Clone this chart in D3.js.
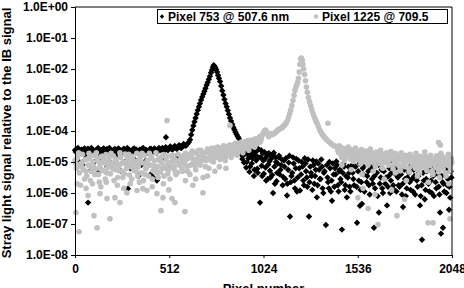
<!DOCTYPE html>
<html>
<head>
<meta charset="utf-8">
<script src="https://cdn.jsdelivr.net/npm/d3@7"></script>
<style>
  body { margin: 0; background: #fff; }
  svg { display: block; font-family: "Liberation Sans", Arial, sans-serif; }
</style>
</head>
<body>
<script>
// values are [pixel, log10(signal)]
const xTicks = [0, 512, 1024, 1536, 2048];
const yExponents = [0, -1, -2, -3, -4, -5, -6, -7, -8];
const legendLabels = ["Pixel 753 @ 507.6 nm", "Pixel 1225 @ 709.5"];

const blackFlat = [
  [0,-4.62],[10,-4.58],[22,-4.66],[35,-4.60],[46,-4.70],[58,-4.63],[70,-4.57],[83,-4.68],[95,-4.61],[108,-4.65],
  [120,-4.59],[131,-4.72],[144,-4.62],[156,-4.56],[168,-4.66],[180,-4.63],[193,-4.60],[205,-4.69],[217,-4.58],[230,-4.64],
  [242,-4.62],[255,-4.70],[266,-4.57],[278,-4.65],[290,-4.61],[303,-4.67],[315,-4.59],[327,-4.63],[340,-4.66],[352,-4.60],
  [364,-4.58],[377,-4.68],[389,-4.62],[401,-4.64],[413,-4.57],[426,-4.66],[438,-4.61],[450,-4.63],[462,-4.59],[475,-4.55],
  [487,-4.60],[499,-4.57],[512,-4.54],[524,-4.58],[536,-4.52],[548,-4.55],[560,-4.50],[572,-4.53],[584,-4.48],[596,-4.45],
  [15,-4.95],[40,-5.10],[62,-4.85],[71,-6.31],[88,-5.25],[105,-5.00],[125,-5.35],[150,-4.90],[175,-5.15],[200,-5.05],
  [225,-4.85],[250,-5.30],[270,-5.00],[288,-5.86],[300,-5.20],[320,-4.90],[345,-5.45],[360,-5.10],[385,-4.95],[410,-5.40],
  [425,-5.50],[445,-5.60],[470,-4.90],[494,-4.20],[500,-5.15],[530,-4.85],[560,-4.80],[585,-4.95]
];

const blackFlat2 = [
  [5,-4.68],[16,-4.55],[28,-4.70],[41,-4.62],[52,-4.56],[64,-4.72],[77,-4.60],[89,-4.55],[101,-4.70],[114,-4.62],
  [126,-4.55],[138,-4.66],[150,-4.60],[162,-4.70],[174,-4.58],[187,-4.55],[199,-4.64],[211,-4.60],[224,-4.72],[236,-4.56],
  [248,-4.65],[260,-4.60],[272,-4.70],[284,-4.55],[297,-4.62],[309,-4.72],[321,-4.56],[333,-4.60],[346,-4.70],[358,-4.64],
  [370,-4.55],[383,-4.60],[395,-4.70],[407,-4.58],[419,-4.64],[432,-4.56],[444,-4.70],[456,-4.55],[468,-4.62],[481,-4.66],
  [493,-4.52],[505,-4.62],[518,-4.50],[530,-4.60],[542,-4.48],[554,-4.58],[566,-4.46],[578,-4.55],[590,-4.42],[602,-4.48]
];

const blackPeak = [
  [610,-4.42],[618,-4.36],[625,-4.28],[631,-4.12],[637,-3.97],[643,-3.83],[649,-3.70],[655,-3.58],[661,-3.45],[667,-3.33],
  [673,-3.22],[679,-3.11],[685,-3.00],[691,-2.90],[697,-2.81],[703,-2.72],[709,-2.62],[715,-2.52],[721,-2.43],[727,-2.33],
  [733,-2.23],[739,-2.12],[744,-2.03],[749,-1.94],[753,-1.88],[757,-1.90],[762,-1.95],[767,-2.02],[772,-2.10],[777,-2.20],
  [782,-2.30],[788,-2.40],[794,-2.55],[800,-2.70],[806,-2.84],[812,-2.98],[818,-3.11],[824,-3.22],[830,-3.34],[836,-3.46],
  [842,-3.58],[848,-3.68],[854,-3.78],[860,-3.88],[866,-3.96],[872,-4.04],[878,-4.11],[884,-4.18],[890,-4.24]
];

const blackTail = [
  [900,-4.52],[906,-4.78],[912,-4.60],[918,-5.02],[924,-4.56],[930,-5.18],[936,-4.70],[942,-4.88],[948,-5.32],[954,-4.63],
  [960,-5.05],[966,-4.80],[972,-5.45],[978,-4.67],[984,-4.95],[990,-5.22],[996,-4.58],[1005,-6.31],[1008,-4.85],[1014,-5.12],
  [1020,-4.72],[1026,-5.38],[1032,-4.90],[1038,-5.60],[1044,-4.75],[1050,-5.08],[1056,-4.98],[1062,-5.50],[1068,-4.82],[1076,-6.00],
  [1080,-4.70],[1086,-5.70],[1092,-5.00],[1098,-5.35],
  [1105,-4.85],[1112,-5.40],[1120,-5.10],[1128,-5.75],[1135,-4.95],[1142,-5.55],[1152,-6.08],[1158,-5.25],[1165,-4.80],[1168,-6.76],
  [1172,-5.65],[1180,-5.35],[1188,-5.05],[1195,-5.85],[1202,-4.90],[1210,-5.50],[1218,-5.20],[1222,-5.92],[1232,-5.00],[1240,-5.60],
  [1248,-4.88],[1255,-5.30],[1262,-5.80],[1271,-6.76],[1278,-5.15],[1285,-5.45],[1292,-4.95],[1300,-5.70],[1308,-5.25],[1314,-6.14],
  [1322,-5.05],[1330,-5.55],[1338,-4.92],[1345,-5.85],[1352,-5.35],[1363,-7.03],[1368,-5.10],[1375,-5.65],[1382,-5.00],[1390,-5.95],
  [1396,-6.25],[1405,-5.40],[1412,-5.20],[1420,-4.98],[1428,-5.75],[1435,-5.30],[1442,-5.55],[1450,-7.18],[1458,-5.05],[1465,-5.90],
  [1472,-5.45],[1477,-6.14],[1485,-5.15],[1492,-5.80],[1498,-5.25],
  [1505,-5.10],[1512,-5.55],[1520,-4.90],[1532,-6.96],[1530,-5.80],[1538,-5.30],[1546,-5.05],[1548,-6.41],[1555,-5.65],[1563,-5.20],
  [1572,-5.95],[1580,-4.95],[1588,-5.45],[1597,-5.75],[1605,-5.15],[1614,-5.55],[1624,-7.12],[1622,-5.00],[1630,-5.85],[1640,-5.35],
  [1648,-5.10],[1651,-6.63],[1656,-5.70],[1665,-5.25],[1673,-6.00],[1682,-4.98],[1690,-5.50],[1695,-6.40],[1700,-5.80],[1708,-5.20],
  [1716,-5.60],[1725,-5.05],[1734,-5.90],[1742,-5.40],[1750,-5.15],[1758,-5.75],[1767,-5.30],[1776,-6.05],[1782,-6.45],[1785,-5.00],
  [1793,-5.55],[1802,-5.85],[1810,-5.25],[1818,-5.65],[1827,-5.10],[1836,-5.95],[1844,-5.45],[1852,-5.20],[1861,-5.80],[1870,-5.35],
  [1874,-6.40],[1878,-6.10],[1885,-7.51],[1887,-5.05],[1895,-5.60],[1904,-5.90],[1912,-5.30],[1920,-5.70],[1929,-5.15],[1938,-6.00],
  [1946,-5.45],[1955,-5.25],[1963,-5.85],[1972,-5.40],[1980,-6.05],[1983,-6.63],[1988,-7.31],[1989,-5.10],[1997,-5.65],[1999,-7.12],
  [2006,-5.95],[2014,-5.35],[2022,-5.75],[2030,-5.20],[2032,-6.54],[2038,-6.15],[2045,-5.50]
];

const blackTail2 = [
  [903,-4.65],[909,-4.90],[915,-4.58],[921,-4.75],[927,-4.62],[933,-5.00],[939,-4.55],[945,-4.80],[951,-5.15],[957,-4.70],
  [963,-4.88],[969,-4.60],[975,-5.25],[981,-4.78],[987,-4.65],[993,-5.35],[999,-4.85],[1011,-4.62],[1017,-5.45],[1023,-4.95],
  [1029,-4.68],[1035,-5.18],[1041,-4.82],[1047,-5.55],[1053,-4.72],[1059,-5.28],[1065,-4.90],[1071,-5.42],[1077,-4.78],[1083,-5.15],
  [1089,-4.85],[1095,-5.62],[1101,-5.05],[1108,-4.80],[1116,-5.25],[1124,-4.92],[1131,-5.48],[1138,-5.15],[1146,-4.88],[1154,-5.70],
  [1161,-5.02],[1176,-5.45],[1184,-4.85],[1192,-5.60],[1199,-5.20],[1206,-5.95],[1214,-4.95],[1228,-5.40],[1236,-5.15],[1244,-5.75],
  [1252,-5.05],[1259,-5.50],[1266,-4.92],[1274,-5.65],[1282,-5.35],[1289,-5.90],[1296,-5.10],[1304,-5.45],[1311,-4.98],[1318,-5.75],
  [1326,-5.25],[1334,-5.55],[1342,-5.15],[1349,-6.00],[1356,-5.30],[1372,-5.50],[1379,-5.85],[1386,-5.20],[1394,-5.60],[1401,-5.05],
  [1409,-5.80],[1416,-5.40],[1424,-5.10],[1432,-5.95],[1439,-5.25],[1446,-5.65],[1454,-5.35],[1462,-5.15],[1469,-5.75],[1482,-5.50],
  [1490,-5.35],[1496,-5.95],
  [1508,-5.35],[1516,-5.75],[1524,-5.15],[1542,-5.60],[1551,-5.90],[1559,-6.35],[1567,-5.40],[1576,-5.10],[1584,-5.65],[1593,-5.30],
  [1601,-6.05],[1610,-5.20],[1618,-5.70],[1627,-5.45],[1635,-5.10],[1644,-6.10],[1661,-5.50],[1669,-5.85],[1678,-5.30],[1686,-5.70],
  [1704,-5.45],[1712,-6.00],[1720,-5.35],[1729,-5.75],[1738,-5.20],[1746,-5.95],[1754,-5.50],[1763,-5.80],[1771,-5.40],[1780,-5.70],
  [1789,-5.25],[1797,-6.10],[1806,-5.50],[1814,-5.35],[1823,-5.90],[1831,-5.55],[1840,-5.25],[1848,-6.05],[1857,-5.60],[1865,-5.45],
  [1883,-5.75],[1891,-5.35],[1900,-6.20],[1908,-5.55],[1916,-5.25],[1925,-5.95],[1933,-5.60],[1942,-5.35],[1950,-6.10],[1959,-5.65],
  [1967,-5.15],[1976,-5.80],[1993,-5.45],[2002,-5.70],[2010,-5.25],[2018,-6.00],[2026,-5.55],[2034,-5.80],[2042,-5.30]
];

const grayFlat = [
  [0,-4.95],[8,-5.20],[16,-4.80],[24,-5.35],[32,-5.05],[40,-4.75],[48,-5.25],[56,-4.92],[64,-5.45],[72,-5.10],
  [80,-4.85],[88,-5.30],[96,-5.00],[104,-4.78],[112,-5.22],[120,-4.95],[128,-5.40],[136,-5.08],[144,-4.82],[152,-5.28],
  [160,-5.02],[168,-4.76],[176,-5.18],[184,-4.90],[192,-5.38],[200,-5.05],[208,-4.80],[216,-5.25],[224,-4.97],[232,-5.50],
  [240,-5.12],[248,-4.85],[256,-5.30],[264,-5.00],[272,-4.74],[280,-5.20],[288,-4.93],[296,-5.42],[304,-5.07],[312,-4.82],
  [320,-5.27],[328,-4.98],[336,-4.72],[344,-5.15],[352,-4.90],[360,-5.35],[368,-5.03],[376,-4.78],[384,-5.22],[392,-4.95],
  [400,-5.45],[408,-5.10],[416,-4.83],[424,-5.28],[432,-4.96],[440,-4.70],[448,-5.15],[456,-4.88],[464,-5.32],[472,-5.02],
  [480,-4.76],[488,-5.20],[496,-4.92],[504,-5.38],[512,-5.05],[520,-4.80],[528,-5.18],[536,-4.90],[544,-5.30],[552,-4.98],
  [560,-4.75],
  [4,-5.05],[20,-4.70],[36,-5.15],[52,-5.55],[68,-4.90],[84,-5.60],[100,-5.15],[116,-4.70],[132,-5.65],[148,-5.00],
  [164,-5.55],[180,-5.05],[196,-4.72],[212,-5.60],[228,-5.10],[244,-4.70],[260,-5.50],[276,-5.05],[292,-4.75],[308,-5.55],
  [324,-5.10],[340,-5.45],[356,-4.80],[372,-5.60],[388,-5.15],[404,-4.72],[420,-5.55],[436,-5.20],[452,-5.50],[468,-4.85],
  [484,-5.45],[500,-5.10],[516,-5.55],[532,-4.78],[548,-5.40],
  [11,-5.70],[5,-6.63],[22,-7.25],[103,-6.73],[120,-7.12],[190,-6.83],[71,-6.08],[136,-6.02],[174,-6.18],[217,-6.15],
  [244,-6.31],[282,-5.99],[337,-5.92],[369,-5.86],[391,-5.92],[445,-6.02],[478,-6.15],[467,-6.57],[527,-6.18],[543,-6.31],
  [30,-5.75],[60,-5.85],[95,-5.70],[140,-5.80],[170,-5.65],[230,-5.75],[265,-5.85],[300,-5.70],[350,-5.65],[420,-5.80],
  [480,-5.70],[510,-5.90],[500,-3.66]
];

const grayFlat2 = [
  [12,-4.88],[28,-5.12],[44,-4.98],[60,-5.30],[76,-4.72],[92,-5.18],[108,-5.40],[124,-4.88],[140,-5.22],[156,-4.95],
  [172,-5.35],[188,-4.78],[204,-5.20],[220,-4.90],[236,-5.28],[252,-5.05],[268,-5.38],[284,-4.82],[300,-5.15],[316,-4.95],
  [332,-5.30],[348,-5.02],[364,-4.72],[380,-5.40],[396,-5.05],[412,-4.88],[428,-5.12],[444,-5.35],[460,-4.95],[476,-5.18],
  [492,-4.80],[508,-5.25],[524,-5.00],[540,-5.15],[556,-5.35]
];

const grayRise = [
  [568,-5.10],[576,-4.85],[584,-5.30],[592,-4.95],[600,-4.72],[608,-5.15],[616,-4.88],[624,-5.40],[632,-4.80],[640,-5.05],
  [648,-4.68],[656,-5.25],[664,-4.90],[672,-4.62],[680,-5.10],[688,-4.78],[696,-5.50],[704,-4.70],[712,-4.95],[720,-4.58],
  [728,-5.20],[736,-4.75],[744,-4.55],[752,-5.00],[760,-4.66],[768,-4.85],[776,-4.52],[784,-5.15],[792,-4.62],[800,-4.80],
  [808,-4.48],[816,-4.95],[824,-4.58],[832,-4.72],[840,-4.45],[848,-4.85],[856,-4.52],[864,-4.66],[872,-4.40],[880,-4.78],
  [888,-4.48],[896,-4.60],[904,-4.36],[912,-4.70],[920,-4.42],[928,-4.55],[936,-4.32],[944,-4.62],[952,-4.38],[960,-4.48],
  [968,-4.28],[976,-4.52],[984,-4.32],[992,-4.40],[1000,-4.22],[1008,-4.35],[1016,-4.15],[1022,-4.08],[1028,-4.00],[1034,-3.97],
  [1040,-4.02],[1046,-4.10],[1052,-4.18],[1058,-4.12],
  [600,-5.60],[640,-5.75],[695,-5.99],[720,-5.45],[760,-5.30],[820,-5.20],[597,-6.60],[655,-5.55],[842,-3.82]
];

const grayRise2 = [
  [572,-4.95],[580,-5.20],[588,-4.80],[596,-5.05],[604,-4.92],[612,-5.30],[620,-4.75],[628,-5.10],[636,-4.65],[644,-4.92],
  [652,-5.12],[660,-4.72],[668,-5.00],[676,-4.85],[684,-4.62],[692,-4.95],[700,-4.80],[708,-5.15],[716,-4.68],[724,-4.88],
  [732,-4.62],[740,-4.95],[748,-4.70],[756,-4.85],[764,-4.55],[772,-4.78],[780,-4.65],[788,-4.92],[796,-4.55],[804,-4.70],
  [812,-4.60],[820,-4.82],[828,-4.50],[836,-4.62],[844,-4.55],[852,-4.75],[860,-4.45],[868,-4.58],[876,-4.50],[884,-4.65],
  [892,-4.40],[900,-4.52],[908,-4.45],[916,-4.58],[924,-4.35],[932,-4.48],[940,-4.40],[948,-4.30],[956,-4.45],[964,-4.35],
  [972,-4.40],[980,-4.25],[988,-4.38],[996,-4.28],[1004,-4.18],[1012,-4.25]
];

const grayPeak = [
  [1064,-4.08],[1070,-4.12],[1076,-4.10],[1082,-4.08],[1088,-4.05],[1094,-4.02],[1100,-3.98],[1106,-3.95],[1112,-3.93],[1118,-3.92],
  [1124,-3.90],[1130,-3.86],[1136,-3.82],[1142,-3.78],[1148,-3.73],[1154,-3.66],[1160,-3.56],[1166,-3.44],[1172,-3.32],[1178,-3.18],
  [1184,-3.02],[1190,-2.85],[1195,-2.69],[1200,-2.58],[1205,-2.50],[1210,-2.42],[1214,-2.30],[1218,-2.10],[1222,-1.85],[1226,-1.68],
  [1230,-1.65],[1234,-1.72],[1238,-1.85],[1242,-2.00],[1247,-2.18],[1252,-2.38],[1257,-2.58],[1262,-2.75],[1268,-2.92],[1274,-3.06],
  [1280,-3.18],[1286,-3.30],[1292,-3.42],[1298,-3.52],[1304,-3.61],[1310,-3.69],[1316,-3.76],[1322,-3.86],[1328,-3.95],[1334,-4.02],
  [1340,-4.08],[1346,-4.13],[1352,-4.18],[1360,-4.23],[1368,-4.28],[1376,-4.33],[1384,-4.37],[1392,-4.41],[1400,-4.45],[1410,-4.48],
  [1420,-4.50],[1374,-3.75]
];

const grayTail = [
  [1428,-4.62],[1436,-4.48],[1444,-4.70],[1452,-4.55],[1460,-4.80],[1468,-4.58],[1476,-4.66],[1484,-4.52],[1492,-4.75],[1500,-4.60],
  [1508,-4.85],[1516,-4.63],[1524,-4.55],[1532,-4.78],[1540,-4.66],[1548,-4.90],[1556,-4.60],[1564,-4.72],[1572,-4.82],[1580,-4.65],
  [1588,-4.95],[1596,-4.70],[1604,-4.58],[1612,-4.85],[1620,-4.72],[1628,-5.00],[1636,-4.68],[1644,-4.80],[1652,-4.90],[1660,-4.62],
  [1668,-5.05],[1676,-4.75],[1684,-4.88],[1692,-4.70],[1700,-4.98],[1708,-4.78],[1716,-4.66],[1724,-5.10],[1732,-4.85],[1740,-4.72],
  [1748,-4.95],[1756,-4.80],[1764,-5.15],[1772,-4.70],[1780,-4.92],[1788,-5.02],[1796,-4.78],[1804,-4.88],[1812,-5.20],[1820,-4.75],
  [1828,-4.98],[1836,-4.85],[1844,-5.08],[1852,-4.72],[1860,-4.95],[1868,-5.25],[1876,-4.82],[1884,-5.02],[1892,-4.90],[1900,-4.68],
  [1908,-5.15],[1916,-4.88],[1924,-5.00],[1932,-4.78],[1940,-5.30],[1948,-4.92],[1956,-5.05],[1964,-4.80],[1972,-5.20],[1980,-4.95],
  [1988,-4.72],[1996,-5.10],[2004,-4.85],[2012,-5.35],[2020,-4.98],[2028,-4.75],[2036,-5.15],[2044,-4.90],
  [1450,-5.10],[1500,-5.25],[1560,-5.40],[1620,-5.30],[1680,-5.55],[1740,-5.35],[1800,-5.60],[1860,-5.45],[1920,-5.65],[1980,-5.50],
  [2030,-5.70],[1565,-5.85],[1630,-6.05],[1720,-5.90],[1790,-6.20],[1537,-6.15],[1592,-6.50],[1646,-7.02],[1749,-6.73],[1918,-6.96],
  [1945,-6.96],[2037,-6.83],[1975,-4.37],[1985,-4.45]
];

const grayTail2 = [
  [1432,-4.70],[1440,-4.58],[1448,-4.85],[1456,-4.62],[1464,-4.95],[1472,-4.70],[1480,-4.82],[1488,-4.62],[1496,-4.90],[1504,-4.72],
  [1512,-4.98],[1520,-4.78],[1528,-4.66],[1536,-4.92],[1544,-4.75],[1552,-5.05],[1560,-4.70],[1568,-4.88],[1576,-5.00],[1584,-4.78],
  [1592,-5.10],[1600,-4.85],[1608,-4.72],[1616,-5.00],[1624,-4.85],[1632,-5.15],[1640,-4.78],[1648,-4.95],[1656,-5.05],[1664,-4.75],
  [1672,-5.20],[1680,-4.88],[1688,-5.02],[1696,-4.82],[1704,-5.10],[1712,-4.90],[1720,-4.78],[1728,-5.22],[1736,-4.98],[1744,-4.85],
  [1752,-5.08],[1760,-4.92],[1768,-5.28],[1776,-4.85],[1784,-5.05],[1792,-5.15],[1800,-4.90],[1808,-5.00],[1816,-5.32],[1824,-4.88],
  [1832,-5.10],[1840,-4.98],[1848,-5.20],[1856,-4.85],[1864,-5.08],[1872,-5.35],[1880,-4.95],[1888,-5.15],[1896,-5.02],[1904,-4.82],
  [1912,-5.28],[1920,-5.00],[1928,-5.12],[1936,-4.90],[1944,-5.40],[1952,-5.05],[1960,-5.18],[1968,-4.92],[1976,-5.32],[1984,-5.08],
  [1992,-4.85],[2000,-5.22],[2008,-4.98],[2016,-5.45],[2024,-5.10],[2032,-4.88],[2040,-5.28],[2047,-5.02]
];

const black753 = blackFlat.concat(blackFlat2, blackPeak, blackTail, blackTail2);
const gray1225 = grayFlat.concat(grayFlat2, grayRise, grayRise2, grayPeak, grayTail, grayTail2);

const width = 464, height = 288;
const margin = { top: 7, right: 12, bottom: 33, left: 75 };
const fontStack = '"Liberation Sans", Arial, sans-serif';
const grayColor = '#c0c0c0';

const svg = d3.select('body').append('svg')
    .attr('width', width)
    .attr('height', height);

const x = d3.scaleLinear()
    .domain([0, 2048])
    .range([margin.left, width - margin.right]);

const y = d3.scaleLog()
    .domain([1e-8, 1])
    .range([height - margin.bottom, margin.top]);

// 1.0E-05 style labels
function sciLabel(v) {
    const e = Math.round(Math.log10(v));
    return '1.0E' + (e < 0 ? '-' : '+') + String(Math.abs(e)).padStart(2, '0');
}

const diamond = 'M0,-3.2L3.2,0L0,3.2L-3.2,0Z';

// black series first, gray drawn on top of it
svg.append('g')
    .selectAll('path')
    .data(black753)
    .join('path')
    .attr('d', diamond)
    .attr('transform', d => `translate(${x(d[0])},${y(Math.pow(10, d[1]))})`)
    .attr('fill', '#000');

svg.append('g')
    .selectAll('circle')
    .data(gray1225)
    .join('circle')
    .attr('cx', d => x(d[0]))
    .attr('cy', d => y(Math.pow(10, d[1])))
    .attr('r', 2.8)
    .attr('fill', grayColor);

// frame: top and right edges
svg.append('path')
    .attr('d', `M${x(0)},${y(1)}H${x(2048)}V${y(1e-8)}`)
    .attr('fill', 'none')
    .attr('stroke', '#000')
    .attr('stroke-width', 1);

const yAxis = svg.append('g')
    .attr('transform', `translate(${margin.left},0)`)
    .call(d3.axisLeft(y)
        .tickValues(yExponents.map(e => Math.pow(10, e)))
        .tickFormat(sciLabel)
        .tickSize(4)
        .tickPadding(3));

const xAxis = svg.append('g')
    .attr('transform', `translate(0,${height - margin.bottom})`)
    .call(d3.axisBottom(x)
        .tickValues(xTicks)
        .tickFormat(d3.format('d'))
        .tickSize(3)
        .tickPadding(6));

[yAxis, xAxis].forEach(g => {
    g.select('.domain').attr('stroke', '#000');
    g.selectAll('.tick line').attr('stroke', '#000');
    g.selectAll('.tick text')
        .attr('fill', '#000')
        .style('font-family', fontStack)
        .style('font-size', '12px')
        .style('font-weight', 'bold');
});

// axis titles
svg.append('text')
    .attr('transform', `translate(11,${(margin.top + height - margin.bottom) / 2 + 2}) rotate(-90)`)
    .attr('text-anchor', 'middle')
    .style('font-family', fontStack)
    .style('font-size', '13px')
    .style('font-weight', 'bold')
    .text('Stray light signal relative to the IB signal');

svg.append('text')
    .attr('x', (x(0) + x(2048)) / 2)
    .attr('y', 293)
    .attr('text-anchor', 'middle')
    .style('font-family', fontStack)
    .style('font-size', '13px')
    .style('font-weight', 'bold')
    .text('Pixel number');

// legend
const legend = svg.append('g');
legend.append('rect')
    .attr('x', 157.5)
    .attr('y', 9.5)
    .attr('width', 290)
    .attr('height', 14)
    .attr('fill', '#fff')
    .attr('stroke', '#000');

legend.append('path')
    .attr('d', 'M0,-2.2L2.2,0L0,2.2L-2.2,0Z')
    .attr('transform', 'translate(162,16.5)')
    .attr('fill', '#000');

legend.append('circle')
    .attr('cx', 316)
    .attr('cy', 16.5)
    .attr('r', 2.2)
    .attr('fill', grayColor);

legend.selectAll('text')
    .data(legendLabels)
    .join('text')
    .attr('x', (d, i) => i === 0 ? 168 : 322)
    .attr('y', 21)
    .style('font-family', fontStack)
    .style('font-size', '12px')
    .style('font-weight', 'bold')
    .text(d => d);
</script>
</body>
</html>
